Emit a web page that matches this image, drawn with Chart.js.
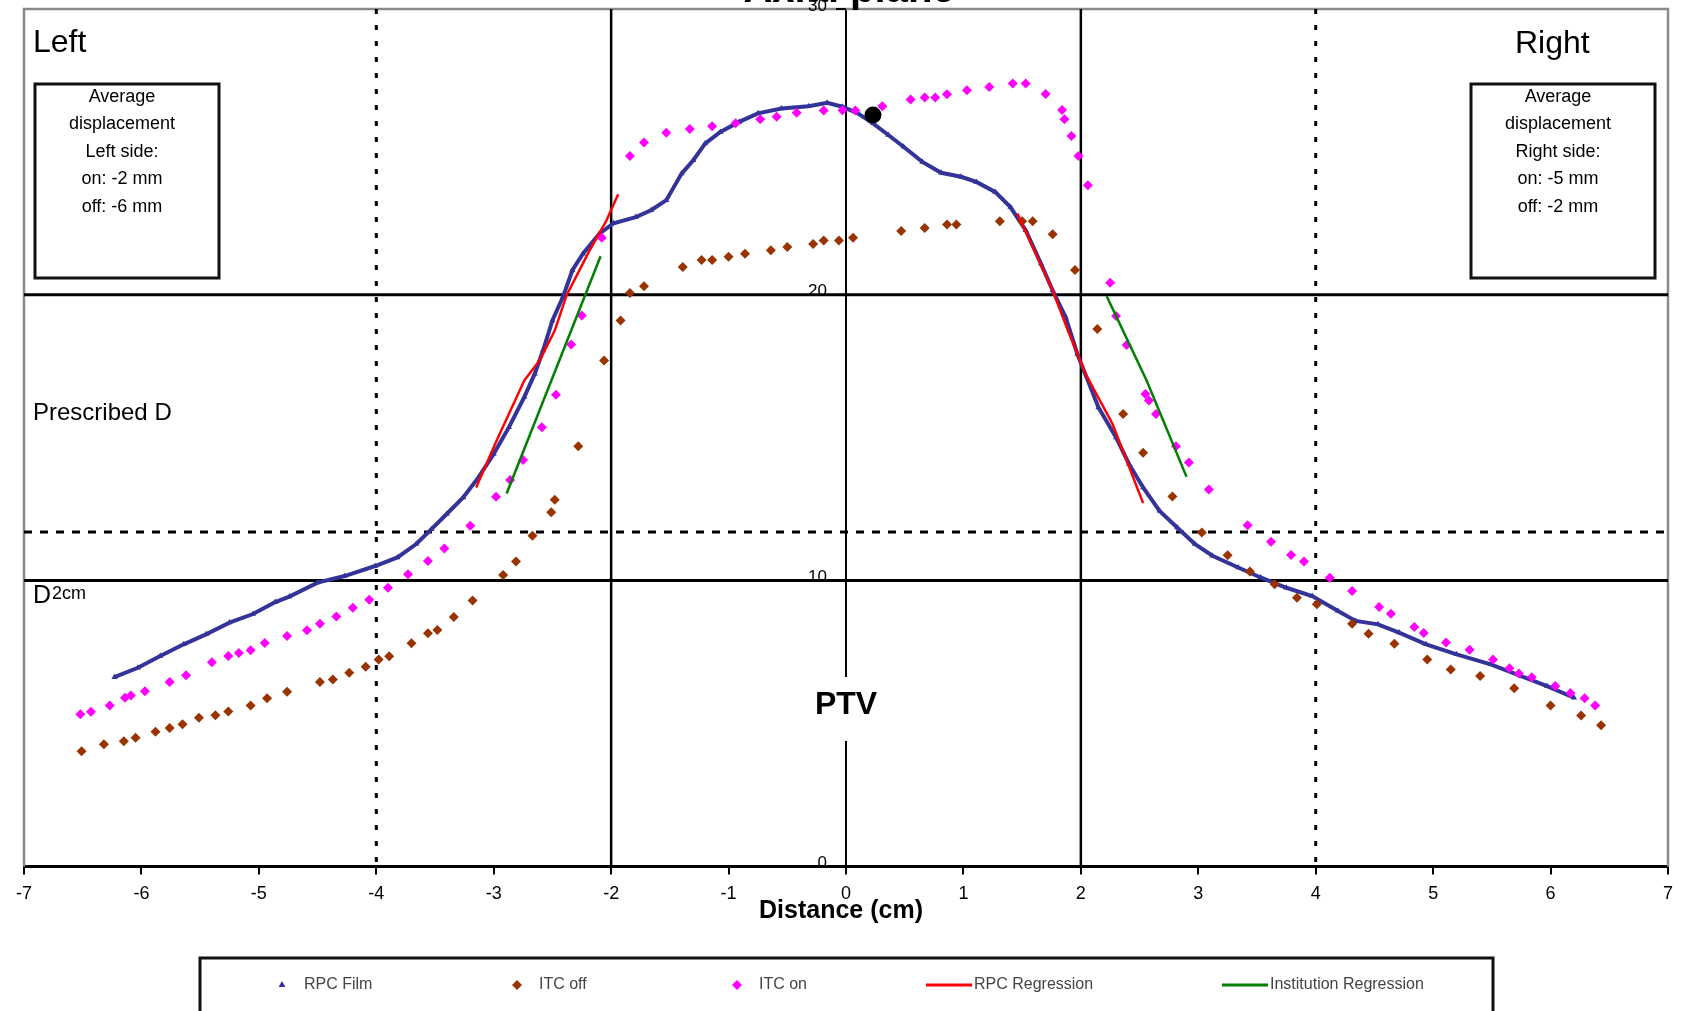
<!DOCTYPE html>
<html lang="en">
<head>
<meta charset="UTF-8" />
<title>Axial plane</title>
<style>
  * { margin: 0; padding: 0; box-sizing: border-box; }
  body { background: #fff; }
  #wrap { width: 1684px; height: 1011px; }
</style>
</head>
<body>
<div id="wrap"><canvas id="chart" width="1684" height="1011"></canvas></div>
<script src="https://cdn.jsdelivr.net/npm/chart.js"></script>
<script>
const FONT = "'Liberation Sans', Arial, sans-serif";

// series names (legend order)
const seriesNames = ['RPC Film', 'ITC off', 'ITC on', 'RPC Regression', 'Institution Regression'];

// RPC film profile: distance (cm) / dose
const filmX = [-6.23,-6.03,-5.84,-5.64,-5.45,-5.25,-5.05,-4.86,-4.74,-4.50,-4.27,-4.01,-3.82,-3.66,-3.53,-3.40,-3.26,-3.13,-3.00,-2.87,
  -2.74,-2.65,-2.58,-2.50,-2.41,-2.33,-2.24,-2.10,-1.98,-1.79,-1.66,-1.53,-1.40,-1.30,-1.20,-1.07,-0.91,-0.75,-0.55,-0.32,
  -0.16,-0.03,0.10,0.23,0.36,0.49,0.65,0.81,0.98,1.11,1.27,1.40,1.53,1.66,1.76,1.87,1.97,2.15,2.30,2.41,
  2.53,2.67,2.82,2.97,3.12,3.34,3.53,3.75,3.97,4.19,4.34,4.53,4.71,4.94,5.20,5.49,5.75,5.97,6.20];
const filmY = [6.62,6.95,7.36,7.77,8.12,8.53,8.83,9.25,9.44,9.93,10.16,10.51,10.81,11.28,11.8,12.33,12.91,13.61,14.43,15.37,
  16.42,17.24,18.05,19.1,19.93,20.86,21.44,22.14,22.5,22.72,22.96,23.31,24.24,24.71,25.29,25.7,26.05,26.35,26.52,26.6,
  26.72,26.58,26.35,26.0,25.59,25.18,24.65,24.27,24.13,23.95,23.6,23.07,22.26,21.09,20.15,19.22,17.93,16.06,15.01,14.08,
  13.26,12.44,11.86,11.28,10.87,10.46,10.11,9.75,9.46,8.94,8.59,8.47,8.18,7.77,7.42,7.07,6.66,6.31,5.9];

// ITC off
const offX = [-6.51,-6.32,-6.15,-6.05,-5.88,-5.76,-5.65,-5.51,-5.37,-5.26,-5.07,-4.93,-4.76,-4.48,-4.37,-4.23,-4.09,-3.98,-3.89,-3.70,
  -3.56,-3.48,-3.34,-3.18,-2.92,-2.81,-2.67,-2.51,-2.48,-2.28,-2.06,-1.92,-1.84,-1.72,-1.39,-1.23,-1.14,-1.00,-0.86,-0.64,
  -0.50,-0.28,-0.19,-0.06,0.06,0.47,0.67,0.86,0.94,1.31,1.50,1.59,1.76,1.95,2.14,2.36,2.53,2.78,3.03,3.25,
  3.44,3.65,3.84,4.01,4.31,4.45,4.67,4.95,5.15,5.40,5.69,6.00,6.26,6.43];
const offY = [4.03,4.27,4.38,4.5,4.71,4.84,4.97,5.2,5.29,5.42,5.63,5.88,6.11,6.45,6.54,6.78,6.99,7.24,7.35,7.81,
  8.16,8.27,8.73,9.3,10.2,10.67,11.57,12.39,12.83,14.7,17.7,19.1,20.06,20.3,20.97,21.22,21.22,21.33,21.44,21.56,
  21.67,21.78,21.9,21.9,22.0,22.23,22.34,22.46,22.46,22.57,22.57,22.57,22.12,20.87,18.8,15.83,14.47,12.94,11.68,10.89,
  10.32,9.87,9.4,9.17,8.49,8.14,7.79,7.24,6.89,6.66,6.23,5.63,5.28,4.94];

// ITC on
const onX = [-6.52,-6.43,-6.27,-6.14,-6.09,-5.97,-5.76,-5.62,-5.40,-5.26,-5.17,-5.07,-4.95,-4.76,-4.59,-4.48,-4.34,-4.20,-4.06,-3.90,
  -3.73,-3.56,-3.42,-3.20,-2.98,-2.86,-2.75,-2.59,-2.47,-2.34,-2.25,-2.08,-1.84,-1.72,-1.53,-1.33,-1.14,-0.94,-0.73,-0.59,
  -0.42,-0.19,-0.03,0.08,0.31,0.55,0.67,0.76,0.86,1.03,1.22,1.42,1.53,1.70,1.84,1.86,1.92,1.98,2.06,2.25,
  2.30,2.39,2.55,2.58,2.64,2.81,2.92,3.09,3.42,3.62,3.79,3.90,4.12,4.31,4.54,4.64,4.84,4.92,5.11,5.31,
  5.51,5.65,5.73,5.84,6.04,6.17,6.29,6.38];
const onY = [5.32,5.41,5.63,5.9,5.98,6.13,6.45,6.69,7.14,7.36,7.47,7.56,7.82,8.06,8.26,8.49,8.74,9.05,9.33,9.75,
  10.22,10.69,11.12,11.92,12.93,13.52,14.22,15.37,16.5,18.26,19.28,22.0,24.86,25.33,25.67,25.8,25.9,26.0,26.14,26.23,
  26.37,26.45,26.46,26.45,26.6,26.83,26.9,26.9,27.02,27.16,27.27,27.39,27.39,27.03,26.47,26.14,25.56,24.86,23.83,20.42,
  19.26,18.24,16.53,16.3,15.83,14.7,14.13,13.19,11.94,11.36,10.9,10.67,10.1,9.64,9.08,8.84,8.38,8.17,7.83,7.58,
  7.24,6.93,6.75,6.62,6.31,6.07,5.88,5.63];

// regression lines, left and right penumbra
const rpcLeftX = [-3.15,-2.97,-2.74,-2.61,-2.48,-2.38,-2.19,-2.04,-1.94];
const rpcLeftY = [13.26,14.95,17.0,17.7,18.75,19.98,21.5,22.6,23.52];
const rpcRightX = [1.46,1.59,1.76,1.89,2.04,2.27,2.53];
const rpcRightY = [22.84,21.67,20.15,18.75,17.23,15.48,12.71];
const instLeftX = [-2.89,-2.09];
const instLeftY = [13.05,21.35];
const instRightX = [2.22,2.56,2.90];
const instRightY = [19.95,17.0,13.63];

// black marker near the centre
const markX = [0.23];
const markY = [26.29];

// reference lines
const solidX = [-2, 2];
const dottedX = [-4, 4];
const solidY = [10, 20];
const dashedY = [11.7];

// axis ticks
const xMin = -7, xMax = 7, xStep = 1;
const yMin = 0, yMax = 30, yStep = 10;

// annotation texts
const leftBox = ['Average', 'displacement', 'Left side:', 'on: -2 mm', 'off: -6 mm'];
const rightBox = ['Average', 'displacement', 'Right side:', 'on: -5 mm', 'off: -2 mm'];

const pts = (xs, ys) => xs.map((x, i) => ({ x: x, y: ys[i] }));

const decor = {
  id: 'decor',
  beforeDatasetsDraw(chart) {
    const { ctx, chartArea: a, scales: { x, y } } = chart;
    ctx.save();
    // grey frame
    ctx.strokeStyle = '#8a8a8a';
    ctx.lineWidth = 2.5;
    ctx.beginPath();
    ctx.moveTo(a.left, a.bottom);
    ctx.lineTo(a.left, a.top);
    ctx.lineTo(a.right, a.top);
    ctx.lineTo(a.right, a.bottom);
    ctx.stroke();

    ctx.strokeStyle = '#000';
    const vline = (v, w, dash) => {
      const px = x.getPixelForValue(v);
      ctx.lineWidth = w; ctx.setLineDash(dash);
      ctx.beginPath(); ctx.moveTo(px, a.top); ctx.lineTo(px, a.bottom); ctx.stroke();
    };
    const hline = (v, w, dash) => {
      const py = y.getPixelForValue(v);
      ctx.lineWidth = w; ctx.setLineDash(dash);
      ctx.beginPath(); ctx.moveTo(a.left, py); ctx.lineTo(a.right, py); ctx.stroke();
    };
    solidX.forEach(v => vline(v, 2.5, []));
    dottedX.forEach(v => vline(v, 3, [5, 11]));
    solidY.forEach(v => hline(v, 3, []));
    dashedY.forEach(v => hline(v, 3, [8, 8]));

    // y tick marks and labels beside the centre axis
    const x0 = x.getPixelForValue(0);
    ctx.setLineDash([]);
    ctx.lineWidth = 2;
    ctx.font = `17px ${FONT}`;
    ctx.textAlign = 'right';
    ctx.textBaseline = 'middle';
    ctx.fillStyle = '#000';
    y.ticks.forEach(t => {
      const py = y.getPixelForValue(t.value);
      ctx.beginPath(); ctx.moveTo(x0 - 10, py); ctx.lineTo(x0, py); ctx.stroke();
      ctx.fillText(String(t.value), x0 - 19, py - 3);
    });
    ctx.restore();
  },
  afterDraw(chart) {
    const { ctx, chartArea: a } = chart;
    ctx.save();
    ctx.fillStyle = '#000';

    // clipped title
    ctx.font = `bold 40px ${FONT}`;
    ctx.textAlign = 'center';
    ctx.textBaseline = 'alphabetic';
    ctx.fillText('Axial plane', 849, 2);

    // x axis title
    ctx.font = `bold 25px ${FONT}`;
    ctx.textBaseline = 'middle';
    ctx.fillText('Distance (cm)', (a.left + a.right) / 2 - 5, 911);

    // side labels
    ctx.textAlign = 'left';
    ctx.textBaseline = 'alphabetic';
    ctx.font = `32px ${FONT}`;
    ctx.fillText('Left', 33, 52);
    ctx.fillText('Right', 1515, 53);
    ctx.font = `24px ${FONT}`;
    ctx.fillText('Prescribed D', 33, 420);
    ctx.font = `25px ${FONT}`;
    ctx.fillText('D', 33, 603);
    const dw = ctx.measureText('D').width;
    ctx.font = `18px ${FONT}`;
    ctx.fillText('2cm', 33 + dw + 1, 599);

    // displacement boxes
    const box = (x0, y0, w, h, lines, cx) => {
      ctx.lineWidth = 3;
      ctx.strokeStyle = '#111';
      ctx.strokeRect(x0, y0, w, h);
      ctx.font = `18px ${FONT}`;
      ctx.textAlign = 'center';
      ctx.textBaseline = 'middle';
      lines.forEach((t, i) => ctx.fillText(t, cx, 97 + i * 27.5));
    };
    box(35, 84, 184, 194, leftBox, 122);
    box(1471, 84, 184, 194, rightBox, 1558);

    // PTV label over the centre axis
    ctx.fillStyle = '#fff';
    ctx.fillRect(806, 677, 80, 64);
    ctx.fillStyle = '#000';
    ctx.font = `bold 32px ${FONT}`;
    ctx.textAlign = 'center';
    ctx.textBaseline = 'alphabetic';
    ctx.fillText('PTV', 846, 714);

    // legend
    ctx.lineWidth = 3;
    ctx.strokeStyle = '#111';
    ctx.strokeRect(200, 958, 1293, 80);
    const ly = 985;
    const starts = [278, 513, 733, 926, 1222];
    ctx.font = `16px ${FONT}`;
    ctx.textAlign = 'left';
    ctx.textBaseline = 'middle';
    chart.data.datasets.filter(d => d.inLegend).forEach((d, i) => {
      const lx = starts[i];
      let tx;
      if (d.pointRadius > 0) {
        ctx.fillStyle = d.pointBackgroundColor;
        Chart.helpers.drawPoint(ctx, { pointStyle: d.pointStyle, radius: d.legendRadius, rotation: 0, borderWidth: 0 }, lx + 4, ly);
        tx = lx + 26;
      } else {
        ctx.strokeStyle = d.borderColor;
        ctx.lineWidth = 3;
        ctx.setLineDash([]);
        ctx.beginPath(); ctx.moveTo(lx, ly); ctx.lineTo(lx + 46, ly); ctx.stroke();
        tx = lx + 48;
      }
      ctx.fillStyle = '#444';
      ctx.fillText(d.label, tx, ly);
    });
    ctx.restore();
  }
};

const lineSet = (label, xs, ys, color, order, inLegend) => ({
  label, data: pts(xs, ys), showLine: true, borderColor: color, backgroundColor: color,
  borderWidth: 2.5, pointRadius: 0, tension: 0, order, inLegend
});

new Chart(document.getElementById('chart'), {
  type: 'scatter',
  data: {
    datasets: [
      {
        label: seriesNames[0], data: pts(filmX, filmY), showLine: true,
        borderColor: '#333399', borderWidth: 4, tension: 0,
        pointStyle: 'triangle', pointRadius: 3.5, pointBorderWidth: 0,
        pointBackgroundColor: '#333399', legendRadius: 4, order: 5, inLegend: true
      },
      {
        label: seriesNames[1], data: pts(offX, offY),
        pointStyle: 'rectRot', pointRadius: 5, pointBorderWidth: 0,
        pointBackgroundColor: '#993300', legendRadius: 5, order: 4, inLegend: true
      },
      {
        label: seriesNames[2], data: pts(onX, onY),
        pointStyle: 'rectRot', pointRadius: 5, pointBorderWidth: 0,
        pointBackgroundColor: '#ff00ff', legendRadius: 5, order: 3, inLegend: true
      },
      lineSet(seriesNames[3], rpcLeftX, rpcLeftY, '#ff0000', 2, true),
      lineSet(seriesNames[4], instLeftX, instLeftY, '#008000', 1, true),
      lineSet(seriesNames[3], rpcRightX, rpcRightY, '#ff0000', 2, false),
      lineSet(seriesNames[4], instRightX, instRightY, '#008000', 1, false),
      {
        label: 'marker', data: pts(markX, markY),
        pointStyle: 'circle', pointRadius: 8.5, pointBorderWidth: 0,
        pointBackgroundColor: '#000', order: 0, inLegend: false
      }
    ]
  },
  options: {
    responsive: false,
    animation: false,
    layout: { padding: { top: 9, left: 24, right: 16, bottom: 97 } },
    plugins: { legend: { display: false }, tooltip: { enabled: false } },
    scales: {
      x: {
        type: 'linear', min: xMin, max: xMax,
        ticks: { stepSize: xStep, autoSkip: false, color: '#000', padding: 9, font: { size: 18, family: FONT } },
        grid: { drawOnChartArea: false, drawTicks: true, tickLength: 8, color: '#000', lineWidth: 2 },
        border: { color: '#000', width: 3 },
        title: { display: false }
      },
      y: {
        type: 'linear', min: yMin, max: yMax, position: { x: 0 },
        ticks: { stepSize: yStep, display: false },
        grid: { display: false },
        border: { color: '#000', width: 2 }
      }
    }
  },
  plugins: [decor]
});
</script>
</body>
</html>
